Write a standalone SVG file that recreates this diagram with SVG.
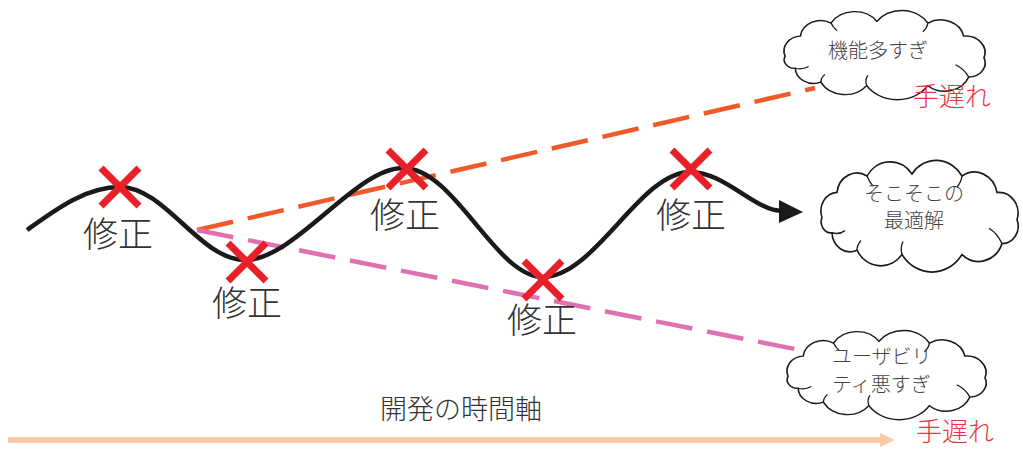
<svg xmlns="http://www.w3.org/2000/svg" width="1023" height="449" viewBox="0 0 1023 449">
<defs>
<style>
.cloud{fill:#fff;stroke:#1a1a1a;stroke-width:1.6;vector-effect:non-scaling-stroke}
.inner{fill:none;stroke:#1a1a1a;stroke-width:1.3;vector-effect:non-scaling-stroke}
.ct{font-family:"Noto Sans CJK JP","Noto Sans CJK SC",sans-serif;font-size:20px;fill:#444;font-weight:300}
.fix{font-family:"Noto Sans CJK JP","Noto Sans CJK SC",sans-serif;font-size:35px;fill:#333;font-weight:300;text-anchor:middle}
.late{font-family:"Noto Sans CJK JP","Noto Sans CJK SC",sans-serif;font-size:26px;fill:#EE3344;font-weight:300}
.x{stroke:#E8202A;stroke-width:7;fill:none}
</style>
<path id="cloudShape" d="M5,50 A17,17 0 0 1 20,27 A20,20 0 0 1 50,12 A27,27 0 0 1 95,10 A30,30 0 0 1 145,12 A23,23 0 0 1 180,27 A19,19 0 0 1 200,52 A16,16 0 0 1 185,74 A25,25 0 0 1 145,84 A36,36 0 0 1 85,84 A27,27 0 0 1 40,80 A18,18 0 0 1 15,64 A10,10 0 0 1 5,50 Z"/>
<path id="cloudInner" d="M15,64 Q22,66 28,62 M40,80 Q40,75 44,71 M85,84 Q83,78 86,72 M185,74 Q180,64 172,60 M50,12 Q52,17 56,21 M145,12 Q144,18 140,22"/>
</defs>
<rect width="1023" height="449" fill="#fff"/>

<g id="connectors">
<line x1="197" y1="230" x2="815" y2="88" stroke="#F05A2A" stroke-width="4.5" stroke-dasharray="37,15"/>
<line x1="197" y1="230" x2="810" y2="352" stroke="#E070B0" stroke-width="4.5" stroke-dasharray="37,15"/>
<path d="M27,230 C55,210 85,187 120,187 C165,187 200,260 245,260 C295,260 355,168 403,168 C455,168 495,277 543,277 C595,277 640,172 690,172 C725,172 755,211 782,211" fill="none" stroke="#1a1a1a" stroke-width="4.5"/>
<polygon points="779,200 803,212 779,223" fill="#1a1a1a"/>
<line x1="8" y1="440" x2="882" y2="440" stroke="#F9C9A8" stroke-width="6"/>
<polygon points="880,433 895,440 880,447" fill="#F9C9A8"/>
</g>

<g id="marks">
<g id="fix1"><path class="x" d="M101,168 L139,206 M139,168 L101,206"/><text class="fix" x="118" y="247">修正</text></g>
<g id="fix2"><path class="x" d="M228,243 L266,281 M266,243 L228,281"/><text class="fix" x="247" y="316">修正</text></g>
<g id="fix3"><path class="x" d="M388,150 L426,188 M426,150 L388,188"/><text class="fix" x="405" y="228">修正</text></g>
<g id="fix4"><path class="x" d="M524,261 L562,299 M562,261 L524,299"/><text class="fix" x="542" y="333">修正</text></g>
<g id="fix5"><path class="x" d="M672,150 L710,188 M710,150 L672,188"/><text class="fix" x="691" y="228">修正</text></g>
</g>

<g id="cloud-top">
<g transform="translate(780,12.6) scale(1.02,0.87)">
<use href="#cloudShape" class="cloud"/>
<use href="#cloudInner" class="inner"/>
</g>
<text class="ct" x="828" y="58">機能多すぎ</text>
<text class="late" x="913" y="106">手遅れ</text>
</g>

<g id="cloud-mid">
<g transform="translate(817,163) scale(1.0,1.09)">
<use href="#cloudShape" class="cloud"/>
<use href="#cloudInner" class="inner"/>
</g>
<text class="ct" x="914" y="201" text-anchor="middle">そこそこの</text>
<text class="ct" x="914" y="228" text-anchor="middle">最適解</text>
</g>

<g id="cloud-bottom">
<g transform="translate(783,332.6) scale(1.01,0.87)">
<use href="#cloudShape" class="cloud"/>
<use href="#cloudInner" class="inner"/>
</g>
<text class="ct" x="832" y="364">ユーザビリ</text>
<text class="ct" x="832" y="392">ティ悪すぎ</text>
<text class="late" x="916" y="441">手遅れ</text>
</g>

<g id="axis-label">
<text x="461" y="419" text-anchor="middle" style="font-family:'Noto Sans CJK JP','Noto Sans CJK SC',sans-serif;font-size:27px;fill:#333;font-weight:300">開発の時間軸</text>
</g>
</svg>
